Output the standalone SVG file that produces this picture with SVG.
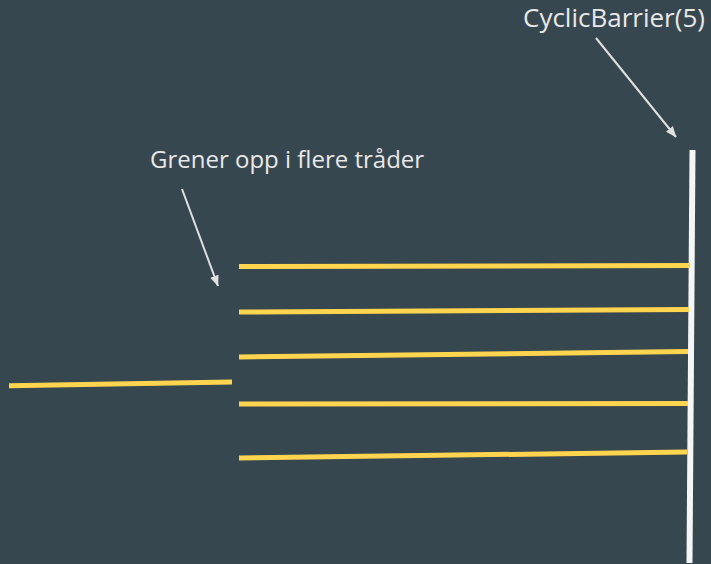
<svg xmlns="http://www.w3.org/2000/svg" width="711" height="564" viewBox="0 0 711 564">
  <defs>
    <marker id="head" viewBox="0 0 10 8" refX="9.5" refY="4" markerWidth="11" markerHeight="9" markerUnits="userSpaceOnUse" orient="auto">
      <path d="M0,0 L10,4 L0,8 z" fill="#e0e0e0"/>
    </marker>
    <style>
      .thread { stroke: #ffd54f; stroke-width: 5; stroke-linecap: butt; fill: none; }
      .barrier { stroke: #f5f5f5; stroke-width: 6; fill: none; }
      .pointer { stroke: #e0e0e0; stroke-width: 2; fill: none; }
      .label { font-family: "Open Sans", "Noto Sans", sans-serif; fill: #e8e8e8; }
    </style>
  </defs>
  <rect width="711" height="564" fill="#37474f"/>

  <g id="barrier">
    <line class="barrier" x1="692.5" y1="150" x2="689.5" y2="563"/>
  </g>

  <g id="main-thread">
    <line class="thread" x1="9" y1="385.7" x2="232" y2="382"/>
  </g>

  <g id="threads">
    <line class="thread" x1="239" y1="266.5" x2="690" y2="265.5"/>
    <line class="thread" x1="239" y1="312" x2="689" y2="309.5"/>
    <line class="thread" x1="239" y1="357" x2="688" y2="351.5"/>
    <line class="thread" x1="239" y1="404" x2="688" y2="403.5"/>
    <line class="thread" x1="239" y1="458" x2="687" y2="452"/>
  </g>

  <g id="label-barrier">
    <text class="label" x="523" y="27" font-size="26">CyclicBarrier(5)</text>
  </g>
  <g id="label-split">
    <text class="label" x="150" y="168" font-size="24">Grener opp i flere tråder</text>
  </g>

  <g id="connectors">
    <line class="pointer" x1="596" y1="38" x2="676" y2="137" marker-end="url(#head)"/>
    <line class="pointer" x1="182" y1="189" x2="218" y2="286" marker-end="url(#head)"/>
  </g>
</svg>
